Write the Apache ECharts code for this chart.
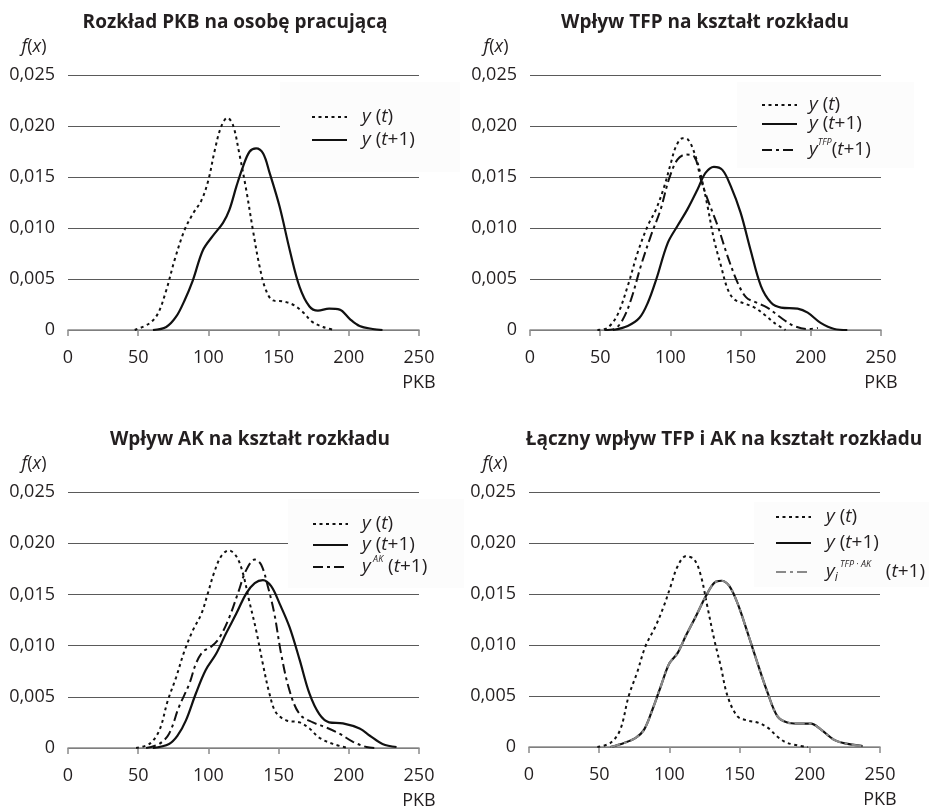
<!DOCTYPE html>
<html><head><meta charset="utf-8">
<script src="https://cdn.jsdelivr.net/npm/echarts@6/dist/echarts.min.js"></script>
<style>html,body{margin:0;padding:0;background:#fff}#c{width:929px;height:811px}</style>
</head><body><div id="c"></div>
<script>
// ---- data (x = PKB, y = f(x)) ----
const titles = ['Rozkład PKB na osobę pracującą','Wpływ TFP na kształt rozkładu','Wpływ AK na kształt rozkładu','Łączny wpływ TFP i AK na kształt rozkładu'];
const xTicks = [0,50,100,150,200,250];
const yTicks = [0,0.005,0.010,0.015,0.020,0.025];

const p1_yt = [[47.5,0],[58,0.00065],[64,0.0016],[70,0.0039],[76,0.0069],[83,0.0098],[89,0.0114],[95,0.0127],[100,0.0147],[104.5,0.0176],[109,0.0199],[113.5,0.0208],[117.5,0.0201],[122,0.0173],[127,0.0137],[131.7,0.0098],[136.5,0.0062],[141,0.0039],[146,0.0029],[153,0.0028],[160,0.0025],[167,0.0018],[174,0.0008],[181.6,0.0003],[190,0]];
const p1_yt1 = [[60.5,0],[70,0.0003],[77,0.0013],[83,0.0029],[89,0.0049],[96,0.0078],[103,0.0092],[110.4,0.0105],[115,0.0118],[120,0.0141],[124.6,0.016],[129.4,0.0175],[134,0.0178],[139,0.0173],[143.6,0.0154],[150.7,0.0121],[158,0.0078],[165,0.0042],[172,0.0023],[178,0.0019],[186,0.0021],[193.5,0.002],[200.6,0.0011],[207.7,0.0004],[217,0.0001],[224,0]];

const p2_yt = [[48,0],[55,0.0002],[62,0.0014],[69.6,0.0043],[76.7,0.0076],[83.8,0.0102],[89.7,0.0118],[95.7,0.0141],[100.4,0.0164],[104,0.018],[108.7,0.0188],[112.3,0.0187],[117,0.0174],[121.8,0.0151],[126.5,0.0121],[131,0.0089],[136,0.0063],[140.8,0.004],[145.5,0.003],[152.7,0.0026],[160,0.0022],[167,0.0015],[174,0.0007],[182,0]];
const p2_yt1 = [[59,0],[69.6,0.0004],[78,0.0012],[84,0.0027],[90,0.005],[98,0.0085],[105,0.0102],[112,0.0118],[119.4,0.0138],[125,0.0154],[131,0.016],[137,0.0157],[143,0.0141],[150,0.0115],[157,0.0079],[164.5,0.0043],[171.6,0.0027],[178.8,0.0022],[190.6,0.0021],[197.8,0.0017],[207,0.0007],[216.8,0.0001],[226,0]];
const p2_ytfp = [[53,0],[60,0.0001],[66,0.001],[72,0.003],[79,0.0063],[86,0.0092],[93,0.0118],[99,0.0148],[105,0.0167],[111,0.0172],[117,0.017],[121.8,0.0147],[126.5,0.0128],[133.7,0.0102],[140.8,0.0072],[148,0.0046],[154,0.0032],[161,0.0027],[169,0.0022],[178.8,0.0012],[188,0.0004],[198,0.0001],[205,0.0002]];

const p3_yt = [[48.5,0],[58,0.0004],[65,0.0017],[71,0.0046],[77,0.0069],[83,0.0095],[89,0.0115],[95,0.0131],[99.6,0.0151],[104,0.0171],[109,0.0187],[114.5,0.0193],[120,0.0187],[124.5,0.0171],[129,0.0144],[134,0.0115],[138.8,0.0082],[143.5,0.0053],[148,0.0035],[155.4,0.0027],[165,0.0025],[172,0.0019],[179,0.001],[188.7,0.0004],[199.4,0]];
const p3_yt1 = [[60.4,0],[72,0.0004],[78,0.0012],[84,0.0027],[91,0.0053],[98,0.0076],[105.5,0.0092],[112.6,0.0112],[119.8,0.0131],[127,0.0151],[133,0.0161],[138.8,0.0164],[144.7,0.0158],[150.7,0.0141],[157.8,0.0118],[165,0.0086],[172,0.0053],[179,0.0033],[186,0.0025],[195.8,0.0024],[207.7,0.0019],[215,0.0012],[224,0.0004],[234,0.0001]];
const p3_yak = [[55.6,0],[65,0.0004],[72,0.0014],[79,0.004],[86.5,0.0063],[91,0.0082],[96,0.0094],[102,0.0099],[108,0.0108],[115,0.0128],[121,0.0151],[127,0.0174],[133,0.0184],[137.6,0.0179],[142.3,0.0158],[147,0.0131],[151.8,0.0092],[157.8,0.0056],[165,0.0033],[174.4,0.0025],[184,0.002],[193.4,0.0014],[203,0.0006],[212.5,0.0001],[219.6,0]];

const p4_yt = [[48.7,0],[58,0.0004],[65,0.0017],[71,0.005],[77,0.0073],[83,0.0099],[90,0.0118],[96,0.0138],[101,0.0158],[105.8,0.0177],[111.7,0.0187],[117.6,0.0184],[122.4,0.0168],[127,0.0138],[132,0.0105],[136.6,0.0079],[141.4,0.005],[148.5,0.003],[155.7,0.0026],[162.8,0.0024],[170,0.0019],[177,0.001],[184,0.0004],[198.4,0]];
const p4_yt1 = [[58,0],[67.7,0.0004],[76,0.0009],[82,0.0017],[88,0.0037],[94,0.006],[100,0.0082],[105.8,0.0092],[111.7,0.0109],[118.8,0.0128],[126,0.0148],[132,0.0161],[137,0.0163],[142.6,0.0158],[148.5,0.0141],[155.7,0.0112],[162.8,0.0082],[170,0.0053],[177,0.003],[184,0.0024],[191,0.0023],[200.8,0.0023],[208,0.0017],[217.4,0.0007],[227,0.0003],[237.6,0.0001]];
const p4_ytfpak = [[58,0],[67.7,0.0004],[76,0.0009],[82,0.0017],[88,0.0037],[94,0.006],[100,0.0082],[105.8,0.0092],[111.7,0.0109],[118.8,0.0128],[126,0.0148],[132,0.0161],[137,0.0163],[142.6,0.0158],[148.5,0.0141],[155.7,0.0112],[162.8,0.0082],[170,0.0053],[177,0.003],[184,0.0024],[191,0.0023],[200.8,0.0023],[208,0.0017],[217.4,0.0007],[227,0.0003],[237.6,0.0001]];

// ---- styling / layout ----
const FONT = '"Open Sans", "Noto Sans", sans-serif';
const TXT = '#231f20';
const FS = 18;
const DOT = {type:[3,3.5], width:2, color:'#111'};
const SOLID = {type:'solid', width:2.2, color:'#111'};
const DASHDOT = {type:[10,4,3,4], width:2, color:'#111'};
const DASHDOT_GRAY = {type:[10,4,3,4], width:2.2, color:'#8a8a8a'};

const grids = [
  {left:68, top:75, width:351, height:255},
  {left:530, top:75, width:351, height:255},
  {left:68, top:492, width:351, height:256},
  {left:529, top:492, width:351, height:255}
];
const titlePos = [[230,8],[700,8],[245,425],[719,425]];

const option = {
  animation:false,
  backgroundColor:'#fff',
  textStyle:{fontFamily:FONT, color:TXT},
  title: titles.map((t,i)=>({text:t, left:titlePos[i][0], top:titlePos[i][1], textAlign:'center',
    textStyle:{fontFamily:FONT, fontWeight:'bold', fontSize:19, color:TXT}})),
  grid: grids,
  xAxis: grids.map((g,i)=>({gridIndex:i, type:'value', min:xTicks[0], max:xTicks[xTicks.length-1], interval:50,
    axisLine:{show:true, lineStyle:{color:'#8c8c8c', width:1.5}},
    axisTick:{show:true, length:6, lineStyle:{color:'#8c8c8c', width:1.5}},
    splitLine:{show:false},
    axisLabel:{margin:19, fontSize:FS, color:TXT, fontFamily:FONT},
    name:'PKB', nameLocation:'end', nameGap:-0.0001,
    nameTextStyle:{fontSize:FS, color:TXT, fontFamily:FONT, align:'center', verticalAlign:'top', padding:[44,0,0,0]}
  })),
  yAxis: grids.map((g,i)=>({gridIndex:i, type:'value', min:yTicks[0], max:yTicks[yTicks.length-1], interval:0.005,
    axisLine:{show:false}, axisTick:{show:false},
    splitLine:{show:true, lineStyle:{color:'#5a5a5a', width:1}},
    axisLabel:{margin:13, fontSize:FS, color:TXT, fontFamily:FONT,
      formatter:v=> v===0 ? '0' : v.toFixed(3).replace('.',',')},
    name:'{i|f}({i|x})', nameLocation:'end', nameGap:28,
    nameTextStyle:{fontSize:FS, color:TXT, fontFamily:FONT, align:'center', verticalAlign:'middle', padding:[0,68,0,0],
      rich:{i:{fontStyle:'italic', fontSize:FS, color:TXT, fontFamily:FONT}}}
  })),
  series: []
};

function addLine(name, data, gi, ls, z){
  option.series.push({name, type:'line', xAxisIndex:gi, yAxisIndex:gi, data, smooth:0.35,
    showSymbol:false, symbol:'none', lineStyle:ls, z:z||2, silent:true});
}
addLine('y (t)', p1_yt, 0, DOT);
addLine('y (t+1)', p1_yt1, 0, SOLID);
addLine('y (t) ', p2_yt, 1, DOT);
addLine('y (t+1) ', p2_yt1, 1, SOLID);
addLine('yTFP (t+1)', p2_ytfp, 1, DASHDOT);
addLine('y (t)  ', p3_yt, 2, DOT);
addLine('y (t+1)  ', p3_yt1, 2, SOLID);
addLine('yAK (t+1)', p3_yak, 2, DASHDOT);
addLine('y (t)   ', p4_yt, 3, DOT);
addLine('y (t+1)   ', p4_yt1, 3, SOLID);
addLine('yi TFP·AK (t+1)', p4_ytfpak, 3, DASHDOT_GRAY, 3);

// ---- legends (decoration drawn as graphics) ----
const LF = 19;
const rich = {
  i:{fontStyle:'italic', fontSize:LF, fontFamily:FONT, color:TXT, lineHeight:24},
  n:{fontSize:LF, fontFamily:FONT, color:TXT, lineHeight:24},
  sup:{fontStyle:'italic', fontSize:9, fontFamily:FONT, color:TXT, verticalAlign:'top', lineHeight:14},
  sub:{fontStyle:'italic', fontSize:12, fontFamily:FONT, color:TXT, verticalAlign:'bottom', lineHeight:10}
};
const T_yt = '{i|y}{n| (}{i|t}{n|)}';
const T_yt1 = '{i|y}{n| (}{i|t}{n|+1)}';
const T_tfp = '{i|y}{sup|TFP}{n|(}{i|t}{n|+1)}';
const T_ak = '{i|y}{sup| AK}{n| (}{i|t}{n|+1)}';
const T_tfpak = '{i|y}{sub|i}{sup| TFP · AK}{n|   (}{i|t}{n|+1)}';

const legends = [
  {box:[280,82,180,90], x0:312, x1:347, tx:362, rows:[[117,T_yt,DOT],[140,T_yt1,SOLID]]},
  {box:[737,82,177,86], x0:762, x1:797, tx:809, rows:[[105,T_yt,DOT],[124,T_yt1,SOLID],[150,T_tfp,DASHDOT]]},
  {box:[288,499,176,89], x0:313, x1:348, tx:362, rows:[[524,T_yt,DOT],[545,T_yt1,SOLID],[567,T_ak,DASHDOT]]},
  {box:[754,502,175,85], x0:776, x1:811, tx:826, rows:[[517,T_yt,DOT],[543,T_yt1,SOLID],[572,T_tfpak,DASHDOT_GRAY]]}
];
const graphic = [];
legends.forEach(L=>{
  graphic.push({type:'rect', shape:{x:L.box[0], y:L.box[1], width:L.box[2], height:L.box[3]}, style:{fill:'#fcfcfc'}, z:10, silent:true});
  L.rows.forEach(r=>{
    const ls = r[2];
    graphic.push({type:'line', shape:{x1:L.x0, y1:r[0], x2:L.x1, y2:r[0]},
      style:{stroke:ls.color, lineWidth:ls.width, lineDash: Array.isArray(ls.type)? ls.type : null}, z:11, silent:true});
    graphic.push({type:'text', x:L.tx, y:r[0], style:{text:r[1], rich:rich, verticalAlign:'middle', align:'left', fontFamily:FONT, fontSize:LF, fill:TXT}, z:11, silent:true});
  });
});
option.graphic = graphic;

const chart = echarts.init(document.getElementById('c'), null, {renderer:'canvas'});
chart.setOption(option);
</script>
</body></html>
